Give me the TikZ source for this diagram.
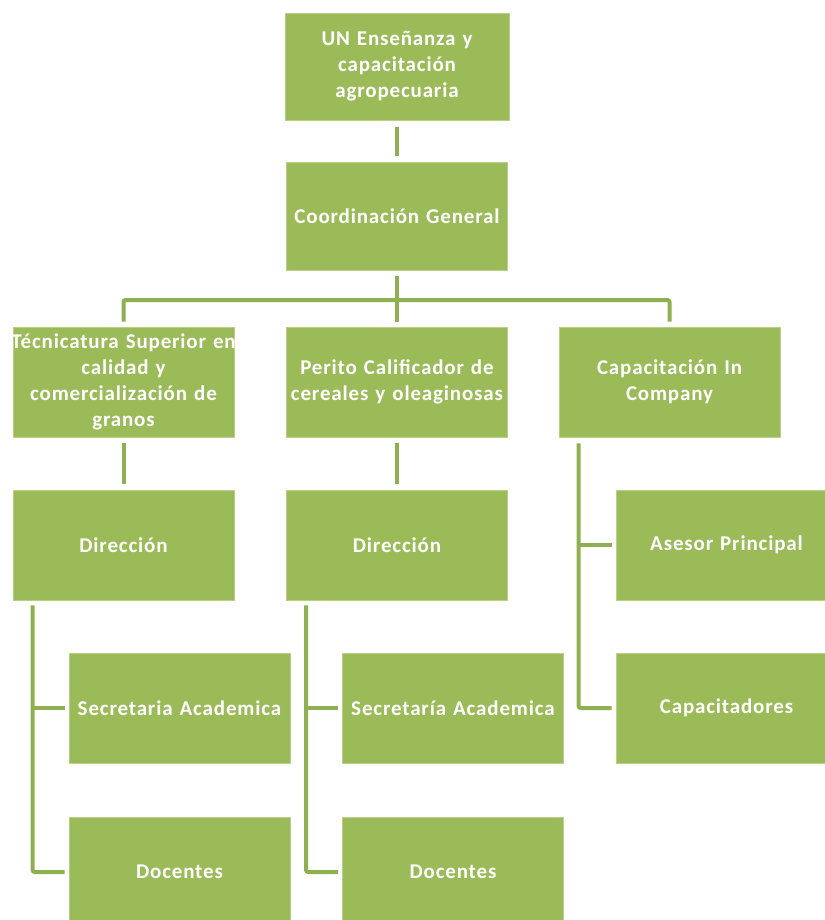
\documentclass[tikz,border=0pt]{standalone}
\usepackage{fontspec}
\setmainfont{Carlito}[LetterSpace=4, WordSpace=0.55]
\definecolor{boxgreen}{HTML}{9BBB59}
\definecolor{linegreen}{HTML}{8FB050}
\definecolor{edgegreen}{HTML}{B9D08A}
\begin{document}
\begin{tikzpicture}[x=1pt,y=-1pt,
  orgbox/.style={rectangle, fill=boxgreen, draw=edgegreen, line width=0.8pt,
    minimum width=221pt, minimum height=110pt, inner sep=0pt,
    text width=221pt, align=center, text=white,
    font=\fontsize{21}{26}\selectfont\bfseries},
  conn/.style={draw=linegreen, line width=4pt, rounded corners=2pt}]
\useasboundingbox (0,0) rectangle (824,920);

% level 0 and 1
\node[orgbox, minimum width=224pt, minimum height=107pt, text width=224pt] (un) at (397,66.5)
  {UN Enseñanza y\\capacitación\\agropecuaria};
\node[orgbox, minimum width=220pt, minimum height=108pt] (cg) at (397,216)
  {Coordinación General};

% level 2
\node[orgbox] (tec) at (123.5,382)
  {\makebox[221pt][c]{Técnicatura Superior en}\\calidad y\\comercialización de\\granos};
\node[orgbox] (per) at (397,382) {Perito Calificador de\\cereales y oleaginosas};
\node[orgbox, minimum width=219pt] (cap) at (669.5,382) {Capacitación In\\Company};

% level 3
\node[orgbox] (dir1) at (123.5,545) {Dirección};
\node[orgbox] (dir2) at (397,545) {Dirección};
\node[orgbox] (ase) at (726.5,545) {Asesor Principal};

% level 4
\node[orgbox] (sec1) at (179.5,708) {Secretaria Academica};
\node[orgbox] (sec2) at (453,708) {Secretaría Academica};
\node[orgbox] (capa) at (726.5,708) {Capacitadores};

% level 5
\node[orgbox] (doc1) at (179.5,872) {Docentes};
\node[orgbox] (doc2) at (453,872) {Docentes};

% trunk
\draw[conn, shorten <=7pt, shorten >=6pt] (un.south) -- (cg.north);
\coordinate (bus) at (0,300);
\draw[conn, shorten <=6pt, shorten >=5pt] (cg.south) -- (per.north);
\draw[conn, shorten <=5pt, shorten >=5pt]
  (tec.north) -- (tec.north |- bus) -- (cap.north |- bus) -- (cap.north);

% programme heads
\draw[conn, shorten <=6pt, shorten >=6pt] (tec.south) -- (dir1.north);
\draw[conn, shorten <=6pt, shorten >=6pt] (per.south) -- (dir2.north);

% side branches
\coordinate (v1) at ([xshift=20pt]dir1.south west);
\coordinate (v2) at ([xshift=20pt]dir2.south west);
\coordinate (v3) at ([xshift=20pt]cap.south west);
\draw[conn, shorten <=5pt, shorten >=4pt] (v1) |- (doc1.west);
\draw[conn, shorten >=4pt] (v1 |- sec1.west) -- (sec1.west);
\draw[conn, shorten <=5pt, shorten >=4pt] (v2) |- (doc2.west);
\draw[conn, shorten >=4pt] (v2 |- sec2.west) -- (sec2.west);
\draw[conn, shorten <=6pt, shorten >=4pt] (v3) |- (capa.west);
\draw[conn, shorten >=4pt] (v3 |- ase.west) -- (ase.west);
\end{tikzpicture}
\end{document}
